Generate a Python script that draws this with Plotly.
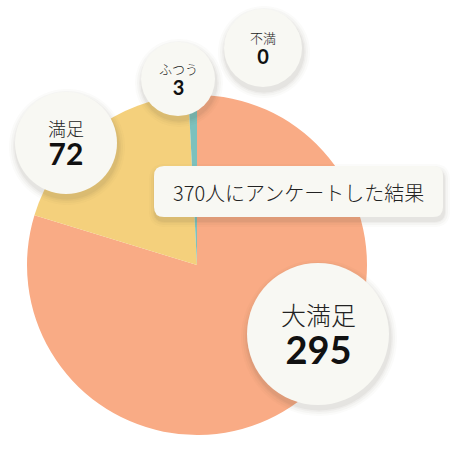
import plotly.graph_objects as go

# survey results
labels = ["大満足", "満足", "ふつう", "不満"]
values = [295, 72, 3, 0]
colors = ["#F9AB85", "#F4D07C", "#7CC1BD", "#E58B7B"]

W, H = 450, 450
BUBBLE = "#F8F8F3"

# bubble layout in pixels: (cx, cy, r, label size, number size, line gap)
bubbles = [
    (318, 334, 71, 25, 38, 35),
    (66, 143, 51, 18, 30, 25.5),
    (178, 79, 37, 13, 20, 19),
    (263, 48, 39, 13, 20, 18.5),
]


def fx(v):
    return v / W


def fy(v):
    return 1 - v / H


fig = go.Figure()

# pie: centre (197, 265), radius 170 px
cx, cy, r = 197, 265, 170
fig.add_trace(go.Pie(
    labels=labels, values=values,
    marker=dict(colors=colors, line=dict(width=0)),
    sort=False, direction="clockwise", rotation=0,
    textinfo="none", hoverinfo="label+value", showlegend=False,
    domain=dict(x=[fx(cx - r), fx(cx + r)], y=[fy(cy + r), fy(cy - r)]),
))

shapes = []
annotations = []


def shadow_circle(x, y, rad):
    for grow, op in [(7, 0.025), (5, 0.035), (3, 0.045), (1.5, 0.06)]:
        shapes.append(dict(
            type="circle", xref="paper", yref="paper", layer="above",
            x0=fx(x - rad - grow + 1), x1=fx(x + rad + grow + 1),
            y0=fy(y + rad + grow + 4), y1=fy(y - rad - grow + 4),
            fillcolor=f"rgba(90,80,60,{op})", line=dict(width=0),
        ))
    shapes.append(dict(
        type="circle", xref="paper", yref="paper", layer="above",
        x0=fx(x - rad), x1=fx(x + rad), y0=fy(y + rad), y1=fy(y - rad),
        fillcolor=BUBBLE, line=dict(width=0),
    ))


def rounded_box(x0, y0, x1, y1, rr):
    p0, p1 = fx(x0), fx(x1)
    q0, q1 = fy(y0), fy(y1)
    ex, ey = rr / W, rr / H
    return (f"M {p0 + ex},{q0} L {p1 - ex},{q0} Q {p1},{q0} {p1},{q0 - ey} "
            f"L {p1},{q1 + ey} Q {p1},{q1} {p1 - ex},{q1} "
            f"L {p0 + ex},{q1} Q {p0},{q1} {p0},{q1 + ey} "
            f"L {p0},{q0 - ey} Q {p0},{q0} {p0 + ex},{q0} Z")


# caption box
bx0, by0, bx1, by1 = 154, 166, 443, 217
for grow, op in [(6, 0.025), (4, 0.035), (2, 0.045), (1, 0.06)]:
    shapes.append(dict(
        type="path", xref="paper", yref="paper", layer="above",
        path=rounded_box(bx0 - grow + 1, by0 - grow + 4, bx1 + grow + 1, by1 + grow + 4, 10 + grow),
        fillcolor=f"rgba(90,80,60,{op})", line=dict(width=0),
    ))
shapes.append(dict(
    type="path", xref="paper", yref="paper", layer="above",
    path=rounded_box(bx0, by0, bx1, by1, 10),
    fillcolor=BUBBLE, line=dict(width=0),
))
annotations.append(dict(
    x=fx((bx0 + bx1) / 2), y=fy((by0 + by1) / 2 + 1), xref="paper", yref="paper",
    text=f"{sum(values)}人にアンケートした結果", showarrow=False,
    font=dict(family="Noto Sans CJK JP", size=20, color="#222222", weight=300),
    xanchor="center", yanchor="middle", borderpad=0,
))

for (bx, by, br, ls, ns, gap), lab, val in zip(bubbles, labels, values):
    shadow_circle(bx, by, br)
    # one text per bubble: light label line, bold number line
    base = (gap + 0.36 * ns - 0.38 * ls) / 1.3
    txt = (f"<span style='font-size:{ls}px'>{lab}</span><br>"
           f"<span style='font-family:Lato;font-size:{ns}px;font-weight:700;fill:#111111'>{val}</span>")
    annotations.append(dict(
        x=fx(bx), y=fy(by), xref="paper", yref="paper",
        text=txt, showarrow=False,
        font=dict(family="Noto Sans CJK JP", size=base, color="#222222", weight=300),
        xanchor="center", yanchor="middle", borderpad=0,
    ))

fig.update_layout(
    width=W, height=H,
    margin=dict(l=0, r=0, t=0, b=0),
    paper_bgcolor="white", plot_bgcolor="white",
    shapes=shapes, annotations=annotations,
)

fig.write_html("out.html", config={"displayModeBar": False},
               post_script="document.body.style.margin='0px';")
